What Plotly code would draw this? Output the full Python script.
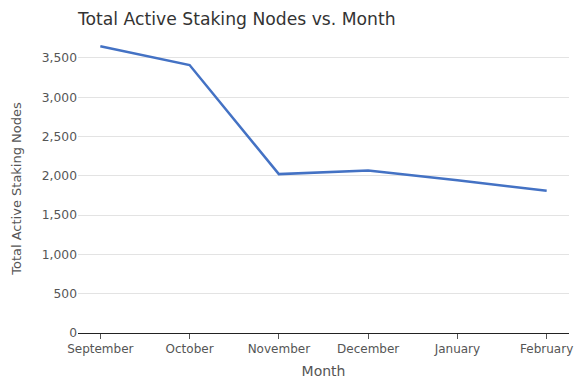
import plotly.graph_objects as go

months = ["September", "October", "November", "December", "January", "February"]
nodes = [3650, 3410, 2022, 2068, 1945, 1810]

fig = go.Figure()
fig.add_trace(go.Scatter(x=months, y=nodes, mode="lines",
                         line=dict(color="#4472C4", width=2.5)))

font = "DejaVu Sans, Verdana, sans-serif"
fig.update_layout(
    width=586, height=388,
    margin=dict(l=78, r=17, t=44, b=55, autoexpand=False),
    paper_bgcolor="white", plot_bgcolor="white",
    showlegend=False,
    font=dict(family=font, color="#555555"),
    title=dict(text="Total Active Staking Nodes vs. Month", x=0, xref="paper",
               y=1 - 18.5 / 388, yref="container", yanchor="middle", xanchor="left",
               font=dict(size=17.2, color="#333333", family=font), pad=dict(t=0)),
    xaxis=dict(type="category", range=[-0.25, 5.25], showgrid=False, automargin=False,
               showline=True, linecolor="#222222", linewidth=1,
               ticks="outside", ticklen=5, tickcolor="#555555",
               tickfont=dict(size=12, color="#555555"),
               title=dict(text="Month", font=dict(size=14, color="#555555"), standoff=10)),
    yaxis=dict(range=[0, 3678], tickvals=[0, 500, 1000, 1500, 2000, 2500, 3000, 3500],
               tickformat=",", showgrid=True, gridcolor="#e3e3e3", zeroline=False,
               showline=False, ticks="", automargin=False,
               tickfont=dict(size=12.3, color="#555555"),
               title=dict(text="Total Active Staking Nodes", font=dict(size=13, color="#555555"),
                          standoff=17)),
)

fig.write_html("out.html", config={"displayModeBar": False},
               post_script="document.body.style.margin='0';")
